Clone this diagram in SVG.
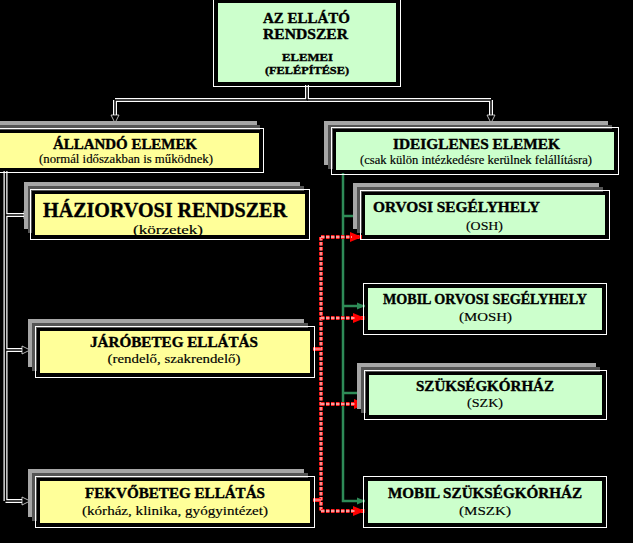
<svg xmlns="http://www.w3.org/2000/svg" width="633" height="543" viewBox="0 0 633 543">
<defs>
<style>
.t{font-family:"Liberation Serif","Times New Roman",serif;font-weight:bold;fill:#000;stroke:#000;stroke-width:0.35;text-anchor:middle}
.s{font-family:"Liberation Serif","Times New Roman",serif;font-weight:normal;fill:#000;stroke:#000;stroke-width:0.15;text-anchor:middle}
.wo{fill:none;stroke:#fff;stroke-width:1}
.y{fill:#ffff99;stroke:#000;stroke-width:3}
.g{fill:#ccffcc;stroke:#000;stroke-width:3}
.sh1{fill:#a6a6a6}
.sh2{fill:#555}
.wl{fill:none;stroke:#fff;stroke-width:4}
.bl{fill:none;stroke:#000;stroke-width:1.5}
.gl{fill:none;stroke:#2e8b57;stroke-width:2.5}
.rl{fill:none;stroke:#ff2020;stroke-width:4;stroke-dasharray:3.5 1.5}
.rp{fill:none;stroke:#ffc0c0;stroke-width:1.3;stroke-dasharray:3.5 1.5}
</style>
<marker id="ab" markerUnits="userSpaceOnUse" markerWidth="10" markerHeight="10" refX="8" refY="4" orient="auto" overflow="visible">
<path d="M0,0 L8,4 L0,8 z" fill="#000" stroke="#fff" stroke-width="0.7"/>
</marker>
<marker id="ag" markerUnits="userSpaceOnUse" markerWidth="10" markerHeight="10" refX="8" refY="3.5" orient="auto" overflow="visible">
<path d="M0,0 L8,3.5 L0,7 z" fill="#2e8b57"/>
</marker>
<marker id="ar" markerUnits="userSpaceOnUse" markerWidth="14" markerHeight="12" refX="12" refY="5" orient="auto" overflow="visible">
<path d="M0,0 L12,5 L0,10 z" fill="#ff0000"/>
</marker>
<clipPath id="hzclip"><rect x="33" y="192" width="274" height="44"/></clipPath>
</defs>
<rect x="0" y="0" width="633" height="543" fill="#000"/>

<g id="connectors">
<path class="wl" d="M307,85 V100 M115,100 H491 M115,100 V116 M491,100 V116"/>
<path class="bl" d="M307,85 V100 H115 V123" marker-end="url(#ab)"/>
<path class="bl" d="M307,100 H491 V123" marker-end="url(#ab)"/>
<path class="wl" d="M5.5,171 V501 M5.5,215 H25 M5.5,350 H23 M5.5,501 H23"/>
<path class="bl" d="M5.5,171 V501 H30" marker-end="url(#ab)"/>
<path class="bl" d="M5.5,215 H32" marker-end="url(#ab)"/>
<path class="bl" d="M5.5,350 H30" marker-end="url(#ab)"/>
<path class="gl" d="M343,173 V501 H365" marker-end="url(#ag)"/>
<path class="gl" d="M343,216 H362" marker-end="url(#ag)"/>
<path class="gl" d="M343,306 H365" marker-end="url(#ag)"/>
<path class="gl" d="M343,393 H366" marker-end="url(#ag)"/>
<path class="rl" d="M321,237 V511"/>
<path class="rp" d="M321,237 V511"/>
<path class="rl" d="M321,237 H362" marker-end="url(#ar)"/>
<path class="rp" d="M321,237 H352"/>
<path class="rl" d="M321,318 H365" marker-end="url(#ar)"/>
<path class="rp" d="M321,318 H355"/>
<path class="rl" d="M321,404 H366" marker-end="url(#ar)"/>
<path class="rp" d="M321,404 H356"/>
<path class="rl" d="M321,511 H365" marker-end="url(#ar)"/>
<path class="rp" d="M321,511 H355"/>
<path d="M313,349 H321 M313,500 H321" stroke="#ff2020" stroke-width="4" fill="none"/>
<path d="M313,349 H321 M313,500 H321" stroke="#ffc0c0" stroke-width="1.2" fill="none"/>
</g>

<g id="top">
<rect class="wo" x="213.5" y="-1.5" width="187" height="88"/>
<rect class="g" x="216.5" y="1.5" width="181" height="82"/>
<text class="t" x="306.5" y="23" font-size="14" textLength="87" lengthAdjust="spacingAndGlyphs">AZ ELLÁTÓ</text>
<text class="t" x="305.5" y="39" font-size="14" textLength="85" lengthAdjust="spacingAndGlyphs">RENDSZER</text>
<text class="t" x="307.5" y="61" font-size="11" textLength="51" lengthAdjust="spacingAndGlyphs">ELEMEI</text>
<text class="t" x="307" y="74" font-size="11" textLength="84" lengthAdjust="spacingAndGlyphs">(FELÉPÍTÉSE)</text>
</g>

<g id="allando">
<rect class="sh1" x="-14" y="121" width="271" height="41"/>
<rect class="sh2" x="-10" y="125" width="270" height="41"/>
<rect class="wo" x="-6.5" y="128.5" width="270" height="44"/>
<rect class="y" x="-3.5" y="131.5" width="264" height="38"/>
<text class="t" x="125" y="149" font-size="14" textLength="144" lengthAdjust="spacingAndGlyphs">ÁLLANDÓ ELEMEK</text>
<text class="s" x="126" y="163" font-size="12" textLength="174" lengthAdjust="spacingAndGlyphs">(normál időszakban is működnek)</text>
</g>

<g id="haziorvosi">
<rect class="sh1" x="24" y="182" width="276" height="47"/>
<rect class="sh2" x="28" y="186" width="276" height="47"/>
<rect class="wo" x="30.5" y="189.5" width="279" height="50"/>
<rect class="y" x="33.5" y="192.5" width="273" height="44"/>
<text class="t" x="165" y="217" font-size="20" textLength="244" lengthAdjust="spacingAndGlyphs">HÁZIORVOSI RENDSZER</text>
<text class="s" x="168" y="234" font-size="13" textLength="70" lengthAdjust="spacingAndGlyphs" clip-path="url(#hzclip)">(körzetek)</text>
</g>

<g id="jarobeteg">
<rect class="sh1" x="28" y="319" width="276" height="48"/>
<rect class="sh2" x="32" y="323" width="276" height="48"/>
<rect class="wo" x="35.5" y="326.5" width="279" height="51"/>
<rect class="y" x="38.5" y="329.5" width="273" height="45"/>
<text class="t" x="174" y="347" font-size="14" textLength="168" lengthAdjust="spacingAndGlyphs">JÁRÓBETEG ELLÁTÁS</text>
<text class="s" x="174" y="363" font-size="13" textLength="133" lengthAdjust="spacingAndGlyphs">(rendelő, szakrendelő)</text>
</g>

<g id="fekvobeteg">
<rect class="sh1" x="28" y="469" width="276" height="48"/>
<rect class="sh2" x="32" y="473" width="276" height="48"/>
<rect class="wo" x="35.5" y="476.5" width="279" height="51"/>
<rect class="y" x="38.5" y="479.5" width="273" height="45"/>
<text class="t" x="175" y="498" font-size="14" textLength="180" lengthAdjust="spacingAndGlyphs">FEKVŐBETEG ELLÁTÁS</text>
<text class="s" x="175" y="515" font-size="13" textLength="186" lengthAdjust="spacingAndGlyphs">(kórház, klinika, gyógyintézet)</text>
</g>

<g id="ideiglenes">
<rect class="sh1" x="324" y="121" width="284" height="44"/>
<rect class="sh2" x="328" y="125" width="284" height="44"/>
<rect class="wo" x="331.5" y="127.5" width="287" height="47"/>
<rect class="g" x="334.5" y="130.5" width="281" height="41"/>
<text class="t" x="476.5" y="149" font-size="14" textLength="167" lengthAdjust="spacingAndGlyphs">IDEIGLENES ELEMEK</text>
<text class="s" x="476" y="164" font-size="12" textLength="232" lengthAdjust="spacingAndGlyphs">(csak külön intézkedésre kerülnek felállításra)</text>
</g>

<g id="osh">
<rect class="sh1" x="353" y="183" width="246" height="46"/>
<rect class="sh2" x="357" y="187" width="246" height="46"/>
<rect class="wo" x="360.5" y="190.5" width="249" height="49"/>
<rect class="g" x="363.5" y="193.5" width="243" height="43"/>
<text class="t" x="373" y="212" font-size="14" textLength="167" lengthAdjust="spacingAndGlyphs" style="text-anchor:start">ORVOSI SEGÉLYHELY</text>
<text class="s" x="484.5" y="230" font-size="13" textLength="37" lengthAdjust="spacingAndGlyphs">(OSH)</text>
</g>

<g id="mosh">
<rect class="wo" x="363.5" y="283.5" width="243" height="51"/>
<rect class="g" x="366.5" y="286.5" width="237" height="45"/>
<text class="t" x="485" y="304" font-size="14" textLength="204" lengthAdjust="spacingAndGlyphs">MOBIL ORVOSI SEGÉLYHELY</text>
<text class="s" x="485.5" y="321" font-size="13" textLength="53" lengthAdjust="spacingAndGlyphs">(MOSH)</text>
</g>

<g id="szk">
<rect class="sh1" x="357" y="363" width="239" height="46"/>
<rect class="sh2" x="361" y="367" width="239" height="46"/>
<rect class="wo" x="364.5" y="370.5" width="242" height="49"/>
<rect class="g" x="367.5" y="373.5" width="236" height="43"/>
<text class="t" x="485" y="391" font-size="14" textLength="138" lengthAdjust="spacingAndGlyphs">SZÜKSÉGKÓRHÁZ</text>
<text class="s" x="485" y="407" font-size="13" textLength="36" lengthAdjust="spacingAndGlyphs">(SZK)</text>
</g>

<g id="mszk">
<rect class="wo" x="363.5" y="476.5" width="243" height="51"/>
<rect class="g" x="366.5" y="479.5" width="237" height="45"/>
<text class="t" x="485" y="498" font-size="14" textLength="194" lengthAdjust="spacingAndGlyphs">MOBIL SZÜKSÉGKÓRHÁZ</text>
<text class="s" x="485" y="515" font-size="13" textLength="52" lengthAdjust="spacingAndGlyphs">(MSZK)</text>
</g>
</svg>
